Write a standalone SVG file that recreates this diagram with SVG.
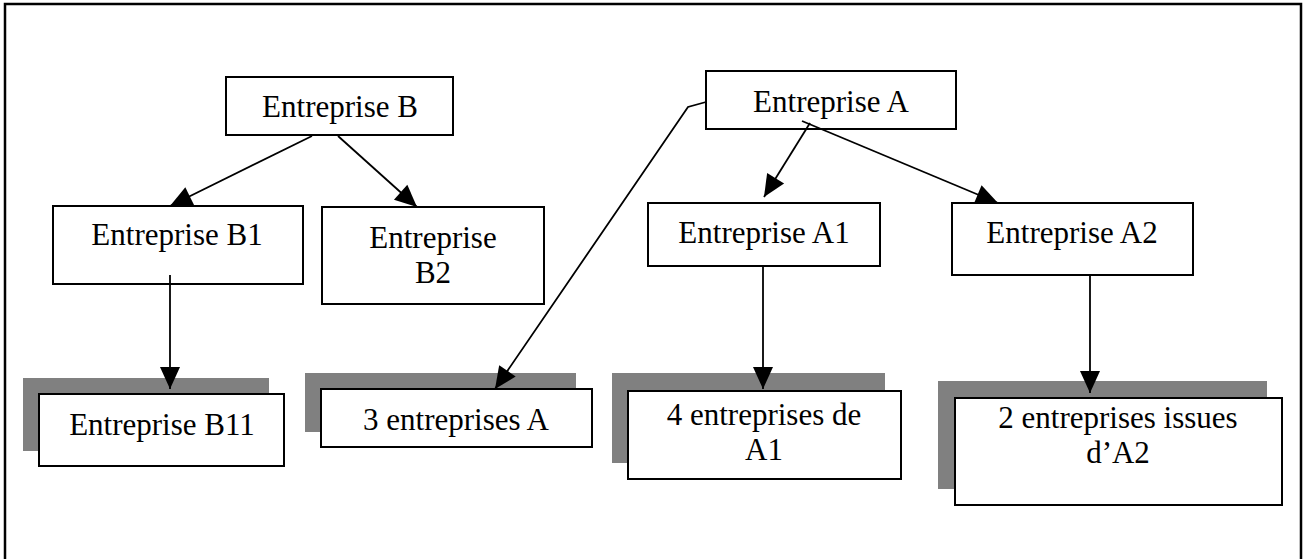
<svg xmlns="http://www.w3.org/2000/svg" width="1306" height="559" viewBox="0 0 1306 559">
<style>
.box{fill:#fff;stroke:#000;stroke-width:2}
.sh{fill:#808080}
.t{font-family:"Liberation Serif","Times New Roman",serif;font-size:31px;fill:#000;text-anchor:middle}
.c{fill:none;stroke:#000;stroke-width:1.8}
</style>
<defs>
<marker id="ah" markerUnits="userSpaceOnUse" markerWidth="23" markerHeight="21" refX="22" refY="10" orient="auto" overflow="visible">
<path d="M0,0 L22,10 L0,20 Z" fill="#000"/>
</marker>
</defs>
<rect width="1306" height="559" fill="#fff"/>
<path d="M5,565 V4 H1301 V565" fill="none" stroke="#000" stroke-width="2.5"/>
<g id="entreprise-b">
<rect class="box" x="226" y="77" width="227" height="58"/>
<text class="t" x="340" y="117">Entreprise B</text>
</g>
<g id="entreprise-b1">
<rect class="box" x="53" y="206" width="250" height="78"/>
<text class="t" x="177" y="245">Entreprise B1</text>
</g>
<g id="entreprise-b2">
<rect class="box" x="322" y="207" width="222" height="97"/>
<text class="t" x="433" y="248">Entreprise</text>
<text class="t" x="433" y="283">B2</text>
</g>
<g id="entreprise-a">
<rect class="box" x="706" y="71" width="250" height="58"/>
<text class="t" x="831" y="112">Entreprise A</text>
</g>
<g id="entreprise-a1">
<rect class="box" x="648" y="203" width="232" height="63"/>
<text class="t" x="764" y="243">Entreprise A1</text>
</g>
<g id="entreprise-a2">
<rect class="box" x="952" y="203" width="241" height="72"/>
<text class="t" x="1072" y="243">Entreprise A2</text>
</g>
<g id="entreprise-b11">
<rect class="sh" x="23" y="378" width="246" height="73"/>
<rect class="box" x="39" y="394" width="245" height="72"/>
<text class="t" x="162" y="435">Entreprise B11</text>
</g>
<g id="trois-entreprises-a">
<rect class="sh" x="305" y="373" width="271" height="59"/>
<rect class="box" x="321" y="389" width="271" height="58"/>
<text class="t" x="456" y="430">3 entreprises A</text>
</g>
<g id="quatre-entreprises-a1">
<rect class="sh" x="612" y="373" width="273" height="90"/>
<rect class="box" x="628" y="391" width="273" height="88"/>
<text class="t" x="764" y="425">4 entreprises de</text>
<text class="t" x="764" y="460">A1</text>
</g>
<g id="deux-entreprises-a2">
<rect class="sh" x="938" y="381" width="329" height="108"/>
<rect class="box" x="955" y="398" width="327" height="107"/>
<text class="t" x="1118" y="428">2 entreprises issues</text>
<text class="t" x="1118" y="463">d’A2</text>
</g>
<g id="connectors">
<line class="c" x1="312" y1="136" x2="170" y2="206" marker-end="url(#ah)"/>
<line class="c" x1="338" y1="136" x2="417" y2="207" marker-end="url(#ah)"/>
<line class="c" x1="170" y1="275" x2="170" y2="389" marker-end="url(#ah)"/>
<line class="c" x1="810" y1="123" x2="764" y2="197" marker-end="url(#ah)"/>
<line class="c" x1="802" y1="121" x2="998" y2="203" marker-end="url(#ah)"/>
<polyline class="c" points="706,102 688,107 495,389" marker-end="url(#ah)"/>
<line class="c" x1="763" y1="266" x2="763" y2="389" marker-end="url(#ah)"/>
<line class="c" x1="1090" y1="275" x2="1090" y2="393" marker-end="url(#ah)"/>
</g>
</svg>
